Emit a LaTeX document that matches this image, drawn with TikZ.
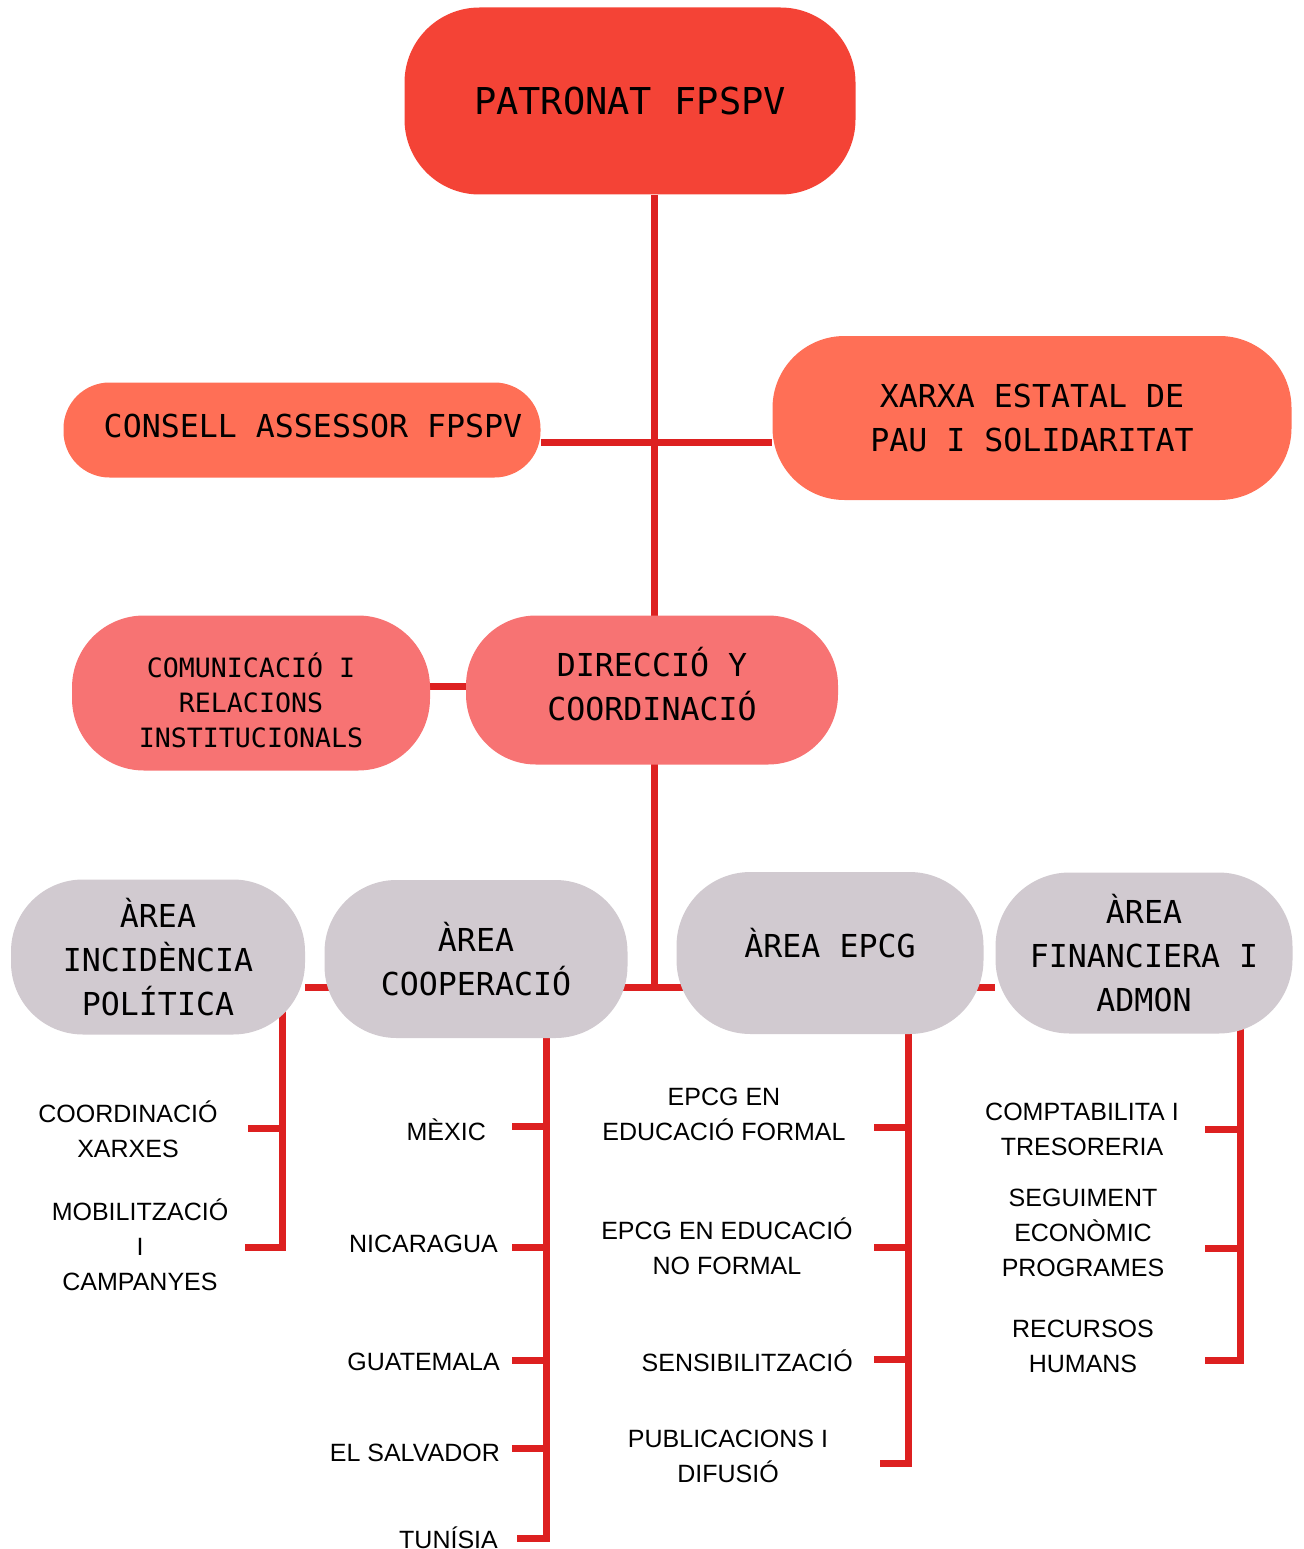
\documentclass[tikz,border=0pt]{standalone}
\usepackage{fontspec}
\setmainfont{Liberation Sans}
\newfontfamily\boxfont{DejaVu Sans Mono}
\usetikzlibrary{backgrounds}

\definecolor{patrored}{RGB}{244,67,54}
\definecolor{salmonbox}{RGB}{255,111,86}
\definecolor{rosebox}{RGB}{247,115,115}
\definecolor{greybox}{RGB}{209,202,208}
\definecolor{linered}{RGB}{221,32,32}

\tikzset{
  box/.style={rounded corners=#1, inner sep=0pt, align=center, text=black},
  bigtext/.style={font=\boxfont\fontsize{31.6}{44}\selectfont},
  smalltext/.style={font=\boxfont\fontsize{26.6}{35}\selectfont},
  link/.style={draw=linered, line width=7pt},
  sub/.style={inner sep=0pt, align=center, font=\fontsize{25}{35}\selectfont},
}

\begin{document}
\begin{tikzpicture}[x=1pt,y=-1pt]
\useasboundingbox (0,0) rectangle (1303,1549);

\coordinate (hub) at (654,442);
\coordinate (side) at (448,686);
\coordinate (bus) at (654,987);
\coordinate (ibar) at (282,1247);
\coordinate (cbar) at (546,1538);
\coordinate (ebar) at (908,1463);
\coordinate (fbar) at (1240,1360);

% top levels
\node [box=75, fill=patrored, minimum width=451pt, minimum height=187pt,
  font=\boxfont\fontsize{37}{44}\selectfont] (patronat) at (630,101) {PATRONAT FPSPV};
\node [box=46, fill=salmonbox, minimum width=477pt, minimum height=95pt,
  label={[bigtext, xshift=11pt, yshift=4pt]center:CONSELL ASSESSOR FPSPV}] (consell) at (302,430) {};
\node [box=72, fill=salmonbox, bigtext, minimum width=519pt, minimum height=164pt] (xarxa) at (1032,418) {XARXA ESTATAL DE\\PAU I SOLIDARITAT};
\node [box=72, fill=rosebox, minimum width=358pt, minimum height=155pt,
  label={[smalltext, align=center, yshift=-7pt]center:{COMUNICACIÓ I\\RELACIONS\\INSTITUCIONALS}}] (comunica) at (251,693) {};
\node [box=70, fill=rosebox, minimum width=372pt, minimum height=149pt,
  label={[bigtext, align=center, yshift=6pt]center:{DIRECCIÓ Y\\COORDINACIÓ}}] (direccio) at (652,690) {};

% areas
\node [box=72, fill=greybox, bigtext, minimum width=294pt, minimum height=155pt] (incid) at (158,957) {ÀREA\\INCIDÈNCIA\\POLÍTICA};
\node [box=72, fill=greybox, bigtext, minimum width=303pt, minimum height=158pt] (coop) at (476,959) {ÀREA\\COOPERACIÓ};
\node [box=74, fill=greybox, minimum width=307pt, minimum height=162pt,
  label={[bigtext, yshift=10pt]center:ÀREA EPCG}] (epcg) at (830,953) {};
\node [box=74, fill=greybox, bigtext, minimum width=297pt, minimum height=161pt] (finan) at (1144,953) {ÀREA\\FINANCIERA I\\ADMON};

% sub items
\node [sub] (coordx) at (128,1129) {COORDINACIÓ\\XARXES};
\node [sub] (mobil) at (140,1245) {MOBILITZACIÓ\\I\\CAMPANYES};

\node [sub, anchor=east] (mexic) at (486,1130) {MÈXIC};
\node [sub, anchor=east] (nicar) at (498,1244) {NICARAGUA};
\node [sub, anchor=east] (guate) at (500,1362) {GUATEMALA};
\node [sub, anchor=east] (salva) at (500,1453) {EL SALVADOR};
\node [sub, anchor=east] (tunis) at (498,1538) {TUNÍSIA};

\node [sub] (formal) at (724,1114) {EPCG EN\\EDUCACIÓ FORMAL};
\node [sub] (noformal) at (727,1246) {EPCG EN EDUCACIÓ\\NO FORMAL};
\node [sub, anchor=east] (sensib) at (853,1361) {SENSIBILITZACIÓ};
\node [sub] (publi) at (728,1456) {PUBLICACIONS I\\DIFUSIÓ};

\node [sub] (compta) at (1082,1129) {COMPTABILITA I\\TRESORERIA};
\node [sub] (segui) at (1083,1233) {SEGUIMENT\\ECONÒMIC\\PROGRAMES};
\node [sub] (recurs) at (1083,1346) {RECURSOS\\HUMANS};

\begin{scope}[on background layer]
% main trunk
\draw [link] (patronat.south -| hub) -- (bus);
\draw [link] (consell.east |- hub) -- (xarxa.west |- hub);
\draw [link] (comunica.east |- side) -- (direccio.west |- side);
\draw [link] (incid.east |- bus) -- (finan.west |- bus);

% branches
\draw [link] (ibar |- incid) -- (ibar) -- ++(-37,0);
\draw [link] (ibar |- coordx) ++(0,-1) -- ++(-34,0);

\draw [link] (cbar |- coop) -- (cbar) -- ++(-29,0);
\foreach \n/\d in {mexic/-4, nicar/3, guate/-2, salva/-5}
  \draw [link] (cbar |- \n) ++(0,\d) -- ++(-34,0);

\draw [link] (ebar |- epcg) -- (ebar) -- ++(-28,0);
\foreach \n/\d in {formal/13, noformal/1, sensib/-2}
  \draw [link] (ebar |- \n) ++(0,\d) -- ++(-34,0);

\draw [link] (fbar |- finan) -- (fbar) -- ++(-35,0);
\foreach \n/\d in {compta/0, segui/15}
  \draw [link] (fbar |- \n) ++(0,\d) -- ++(-35,0);
\end{scope}
\end{tikzpicture}
\end{document}
